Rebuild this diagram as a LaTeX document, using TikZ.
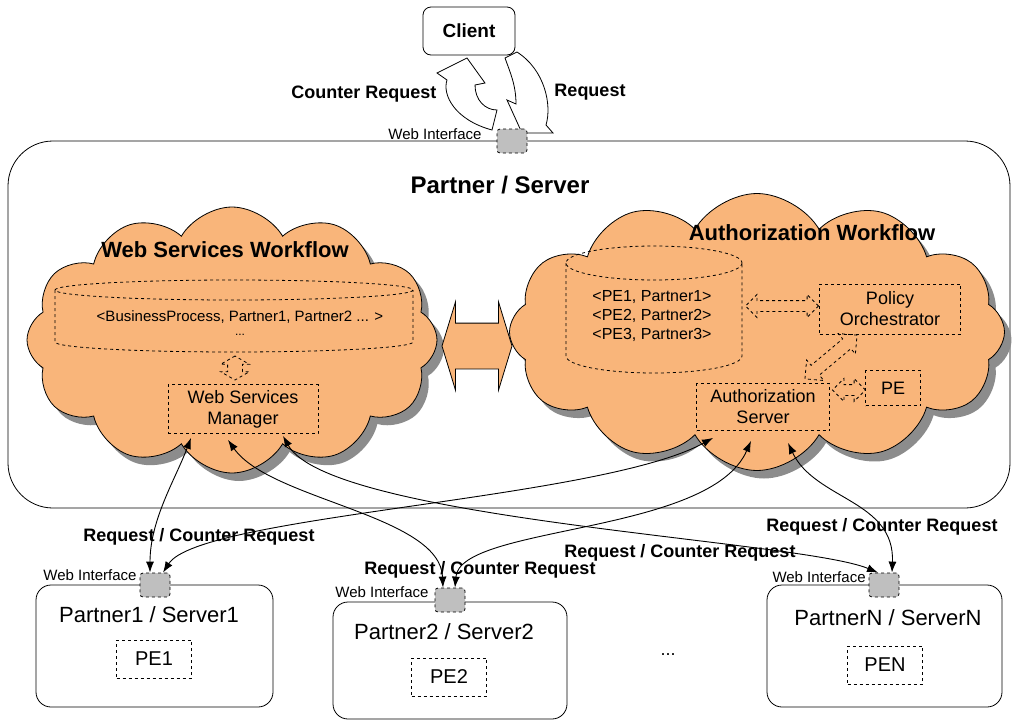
\documentclass[tikz,border=0pt]{standalone}
\usepackage{fontspec}
\setmainfont{Liberation Sans}
\usepackage{tikz}
\usetikzlibrary{arrows.meta, positioning, shapes, shadows}
\definecolor{cloudorange}{RGB}{249,181,122}
\tikzset{
  box/.style={draw, rectangle, rounded corners=15pt},
  dbox/.style={draw, dashed, rectangle, align=center, inner sep=0pt},
  cloudy/.style={cloud, draw, fill=cloudorange, cloud puffs=12, cloud puff arc=120, cloud ignores aspect,
    drop shadow={shadow xshift=7pt, shadow yshift=-8pt, fill=black!45, opacity=1}},
  webif/.style={draw, dashed, fill=black!25, rounded corners=3pt, minimum width=30pt, minimum height=24pt, inner sep=0pt},
  wlabel/.style={font=\fontsize{15}{15}\selectfont, anchor=east, inner sep=1pt},
  rlabel/.style={font=\bfseries\fontsize{18}{18}\selectfont, inner sep=1pt},
  title/.style={font=\bfseries\fontsize{22}{22}\selectfont},
  link/.style={{Latex[length=11pt,width=8pt]}-{Latex[length=11pt,width=8pt]}, line width=0.9pt},
  dblarr/.style={double arrow, draw, dashed, inner xsep=0pt, inner ysep=5pt, double arrow head extend=6pt, double arrow tip angle=90},
}

\begin{document}
\begin{tikzpicture}[x=1pt, y=-1pt, line width=0.8pt, font=\fontsize{18}{21}\selectfont]
  \useasboundingbox (0,0) rectangle (1013,721);

  % client and the partner / server
  \node[box, rounded corners=8pt, minimum width=92pt, minimum height=48pt, font=\bfseries\fontsize{19}{19}\selectfont] (client) at (469,31) {Client};
  \node[draw, rounded corners=45pt, minimum width=1002pt, minimum height=367pt] (server) at (509,324.5) {};
  \node[font=\bfseries\fontsize{24}{24}\selectfont] (servertitle) at (500,185) {Partner / Server};

  % request / counter request at the top
  \draw[fill=white] (492,130) .. controls (455,120) and (442,95) .. (447,80) -- (437,73) -- (467,58) -- (485,83) -- (475,85) .. controls (475,100) and (485,110) .. (497,110) -- cycle;
  \draw[fill=white] (517,52) .. controls (545,70) and (552,105) .. (546,125) -- (553,133) -- (522,133) -- (507,100) -- (516,104) .. controls (516,85) and (510,72) .. (505,58) -- cycle;
  \node[rlabel] (creq) at (364,94) {Counter Request};
  \node[rlabel] (req) at (590,92) {Request};
  \node[webif] (wi) at (512,141) {};
  \node[wlabel] at (483,134) {Web Interface};

  % the two workflows
  \node[cloudy, minimum width=410pt, minimum height=266pt] (wsflow) at (232,340) {};
  \node[cloudy, minimum width=495pt, minimum height=277pt] (authflow) at (757,332) {};
  \node[double arrow, draw, fill=cloudorange, minimum height=70pt, inner xsep=0pt, inner ysep=22.5pt,
    double arrow head extend=21pt, double arrow tip angle=146] (link) at (477,346) {};

  \node[title] (wstitle) at (225,250) {Web Services Workflow};
  \node[title] (authtitle) at (812,233) {Authorization Workflow};

  % web services side
  \draw[dashed] (234,290) ellipse [x radius=179, y radius=10];
  \draw[dashed] (55,290) -- (55,342) arc [start angle=180, end angle=0, x radius=179, y radius=10] -- (413,290);
  \node[font=\fontsize{15}{15}\selectfont] (bpdb) at (240,317) {<BusinessProcess, Partner1, Partner2 ... >};
  \node[font=\fontsize{12}{12}\selectfont] at (240,335) {...};
  \node[dbox, minimum width=150pt, minimum height=49pt] (wsm) at (243,409) {Web Services\\Manager};
  \node[dblarr, minimum height=24pt, inner ysep=7pt, double arrow head extend=7pt, double arrow tip angle=120, rotate=90] (wsmdb) at (235,368) {};

  % authorization side
  \draw[dashed] (654,263) ellipse [x radius=88, y radius=17];
  \draw[dashed] (566,263) -- (566,356) arc [start angle=180, end angle=0, x radius=88, y radius=17] -- (742,263);
  \node[align=center, font=\fontsize{16}{19}\selectfont] (pedb) at (652,316) {<PE1, Partner1>\\<PE2, Partner2>\\<PE3, Partner3>};
  \node[dbox, minimum width=141pt, minimum height=50pt] (po) at (890,309) {Policy\\Orchestrator};
  \node[dbox, minimum width=133pt, minimum height=47pt] (as) at (763,407) {Authorization\\Server};
  \node[dbox, minimum width=55pt, minimum height=35pt] (pe) at (893,388) {PE};
  \node[dblarr, minimum height=73pt] (dbpo) at (782,306) {};
  \node[dblarr, minimum height=68pt, inner ysep=6pt, double arrow head extend=7pt, rotate=40] (poas) at (831,357) {};
  \node[dblarr, minimum height=33pt] (aspe) at (849,390) {};

  % partners
  \node[box, minimum width=237pt, minimum height=122pt] (p1) at (154.5,646) {};
  \node[box, minimum width=234pt, minimum height=117pt] (p2) at (450,660.5) {};
  \node[box, minimum width=235pt, minimum height=122pt] (pn) at (884.5,646) {};
  \node[font=\fontsize{22}{22}\selectfont] (p1title) at (149,615) {Partner1 / Server1};
  \node[font=\fontsize{22}{22}\selectfont] (p2title) at (444,632) {Partner2 / Server2};
  \node[font=\fontsize{22}{22}\selectfont] (pntitle) at (888,618) {PartnerN / ServerN};
  \node[dbox, minimum width=75pt, minimum height=38pt, font=\fontsize{20}{20}\selectfont] (pe1) at (154,659) {PE1};
  \node[dbox, minimum width=75pt, minimum height=38pt, font=\fontsize{20}{20}\selectfont] (pe2) at (449,677) {PE2};
  \node[dbox, minimum width=75pt, minimum height=38pt, font=\fontsize{20}{20}\selectfont] (pen) at (885,665) {PEN};
  \node (dots) at (668,655) {...};

  \node[webif] (wi1) at (155,585) {};
  \node[webif] (wi2) at (450,600) {};
  \node[webif] (win) at (884,585) {};
  \node[wlabel] at (138,575) {Web Interface};
  \node[wlabel] at (430,592) {Web Interface};
  \node[wlabel] at (867,577) {Web Interface};

  % request / counter request links
  \draw[link] ([xshift=-52pt, yshift=-4pt]wsm.south) .. controls (175,480) and (150,520) .. ([xshift=-5pt]wi1.north);
  \draw[link] ([xshift=-15pt, yshift=-6pt]wsm.south) .. controls (270,500) and (440,515) .. ([xshift=-7pt]wi2.north);
  \draw[link] ([xshift=40pt, yshift=-2pt]wsm.south) .. controls (330,520) and (800,540) .. ([xshift=-6pt]win.north);
  \draw[link] ([xshift=-50pt, yshift=-7pt]as.south) .. controls (600,500) and (200,515) .. ([xshift=8pt]wi1.north);
  \draw[link] ([xshift=-12pt, yshift=-10pt]as.south) .. controls (710,535) and (460,525) .. ([xshift=5pt]wi2.north);
  \draw[link] ([xshift=25pt, yshift=-12pt]as.south) .. controls (815,500) and (895,500) .. ([xshift=8pt]win.north);

  \node[rlabel] (lab1) at (199,537) {Request / Counter Request};
  \node[rlabel] (lab2) at (480,570) {Request / Counter Request};
  \node[rlabel] (lab3) at (680,553) {Request / Counter Request};
  \node[rlabel] (lab4) at (882,527) {Request / Counter Request};
\end{tikzpicture}
\end{document}
